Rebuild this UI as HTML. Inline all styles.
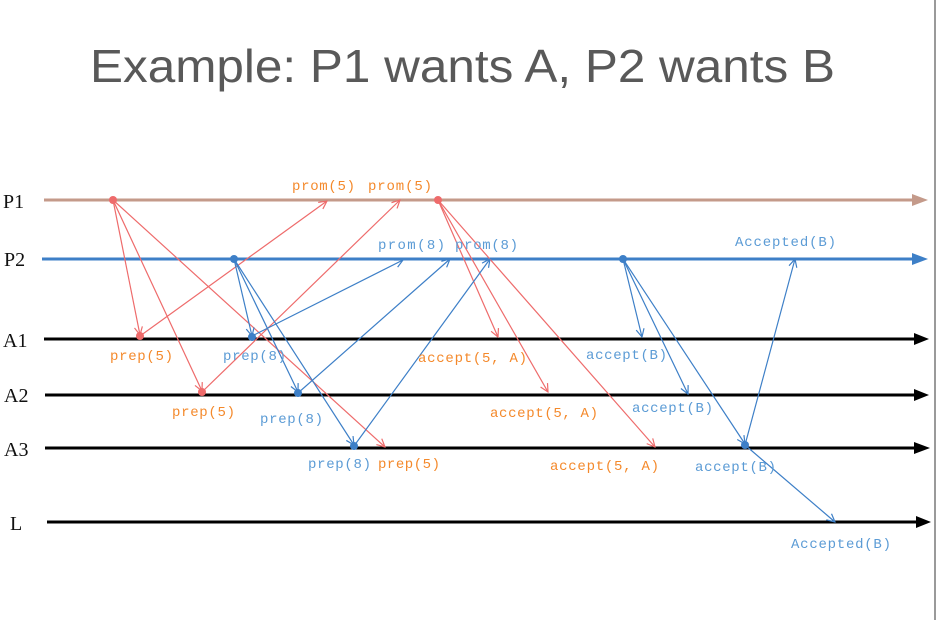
<!DOCTYPE html>
<html><head><meta charset="utf-8"><style>html,body{margin:0;padding:0;background:#fff;}svg{display:block}</style></head>
<body>
<svg width="943" height="620" viewBox="0 0 943 620" xmlns="http://www.w3.org/2000/svg">
<defs>
<marker id="or" markerWidth="10" markerHeight="10" refX="9" refY="5" orient="auto" markerUnits="userSpaceOnUse"><path d="M1,1 L9,5 L1,9" fill="none" stroke="#ee6b6b" stroke-width="1.2"/></marker>
<marker id="ob" markerWidth="10" markerHeight="10" refX="9" refY="5" orient="auto" markerUnits="userSpaceOnUse"><path d="M1,1 L9,5 L1,9" fill="none" stroke="#3d7fc7" stroke-width="1.2"/></marker>
</defs>
<line x1="935" y1="0" x2="935" y2="620" stroke="#9a9a9a" stroke-width="2"/>
<text x="90" y="82" font-family="Liberation Sans, sans-serif" font-size="46" fill="#595959" textLength="745" lengthAdjust="spacingAndGlyphs">Example: P1 wants A, P2 wants B</text>
<g font-family="Liberation Serif, serif" font-size="20" fill="#111">
<text x="3" y="208">P1</text><text x="4" y="266">P2</text><text x="3" y="347">A1</text><text x="4" y="402">A2</text><text x="4" y="456">A3</text><text x="10" y="530">L</text>
</g>
<!-- timelines -->
<line x1="44" y1="200" x2="914" y2="200" stroke="#c49a8a" stroke-width="3"/><polygon points="912,194 928,200 912,206" fill="#c49a8a"/>
<line x1="42" y1="259" x2="914" y2="259" stroke="#3d7fc7" stroke-width="3"/><polygon points="912,253 928,259 912,265" fill="#3d7fc7"/>
<g stroke="#000" stroke-width="3">
<line x1="44" y1="339" x2="916" y2="339"/><line x1="45" y1="395" x2="916" y2="395"/><line x1="45" y1="448" x2="916" y2="448"/><line x1="47" y1="522" x2="918" y2="522"/>
</g>
<g fill="#000"><polygon points="914,333 929,339 914,345"/><polygon points="914,389 929,395 914,401"/><polygon points="914,442 930,448 914,454"/><polygon points="916,516 931,522 916,528"/></g>
<!-- red arrows -->
<g stroke="#ee6b6b" stroke-width="1.2" fill="none" marker-end="url(#or)">
<line x1="113" y1="200" x2="140" y2="335"/><line x1="113" y1="200" x2="202" y2="391"/><line x1="113" y1="200" x2="385" y2="447"/>
<line x1="140" y1="336" x2="327" y2="201"/><line x1="202" y1="392" x2="400" y2="200"/>
<line x1="438" y1="200" x2="498" y2="337"/><line x1="438" y1="200" x2="548" y2="392"/><line x1="438" y1="200" x2="655" y2="447"/>
</g>
<g stroke="#3d7fc7" stroke-width="1.2" fill="none" marker-end="url(#ob)">
<line x1="234" y1="259" x2="252" y2="336"/><line x1="234" y1="259" x2="298" y2="392"/><line x1="234" y1="259" x2="354" y2="445"/>
<line x1="252" y1="336" x2="403" y2="260"/><line x1="298" y1="393" x2="450" y2="259"/><line x1="354" y1="446" x2="490" y2="259"/>
<line x1="623" y1="259" x2="642" y2="337"/><line x1="623" y1="259" x2="688" y2="394"/><line x1="623" y1="259" x2="745" y2="444"/>
<line x1="745" y1="445" x2="795" y2="259"/><line x1="745" y1="445" x2="835" y2="522"/>
</g>
<g fill="#ee6b6b"><circle cx="113" cy="200" r="4"/><circle cx="438" cy="200" r="4"/><circle cx="140" cy="336" r="4"/><circle cx="202" cy="392" r="4"/></g>
<g fill="#3d7fc7"><circle cx="234" cy="259" r="4"/><circle cx="623" cy="259" r="4"/><circle cx="252" cy="337" r="4"/><circle cx="298" cy="393" r="4"/><circle cx="354" cy="446" r="4"/><circle cx="745" cy="445" r="4"/></g>
<g font-family="Liberation Mono, monospace" font-size="14" lengthAdjust="spacingAndGlyphs">
<g fill="#f4892b">
<text x="292" y="190" textLength="63">prom(5)</text><text x="368" y="190" textLength="64">prom(5)</text>
<text x="110" y="360" textLength="63">prep(5)</text><text x="172" y="416" textLength="63">prep(5)</text><text x="378" y="468" textLength="62">prep(5)</text>
<text x="418" y="362" textLength="109">accept(5, A)</text><text x="490" y="417" textLength="108">accept(5, A)</text><text x="550" y="470" textLength="109">accept(5, A)</text>
</g>
<g fill="#5b9bd5">
<text x="378" y="249" textLength="67">prom(8)</text><text x="455" y="249" textLength="63">prom(8)</text>
<text x="735" y="246" textLength="101">Accepted(B)</text>
<text x="223" y="360" textLength="63">prep(8)</text><text x="260" y="423" textLength="63">prep(8)</text><text x="308" y="468" textLength="63">prep(8)</text>
<text x="586" y="359" textLength="81">accept(B)</text><text x="632" y="412" textLength="81">accept(B)</text><text x="695" y="471" textLength="81">accept(B)</text>
<text x="791" y="548" textLength="100">Accepted(B)</text>
</g>
</g>
</svg>
</body></html>
